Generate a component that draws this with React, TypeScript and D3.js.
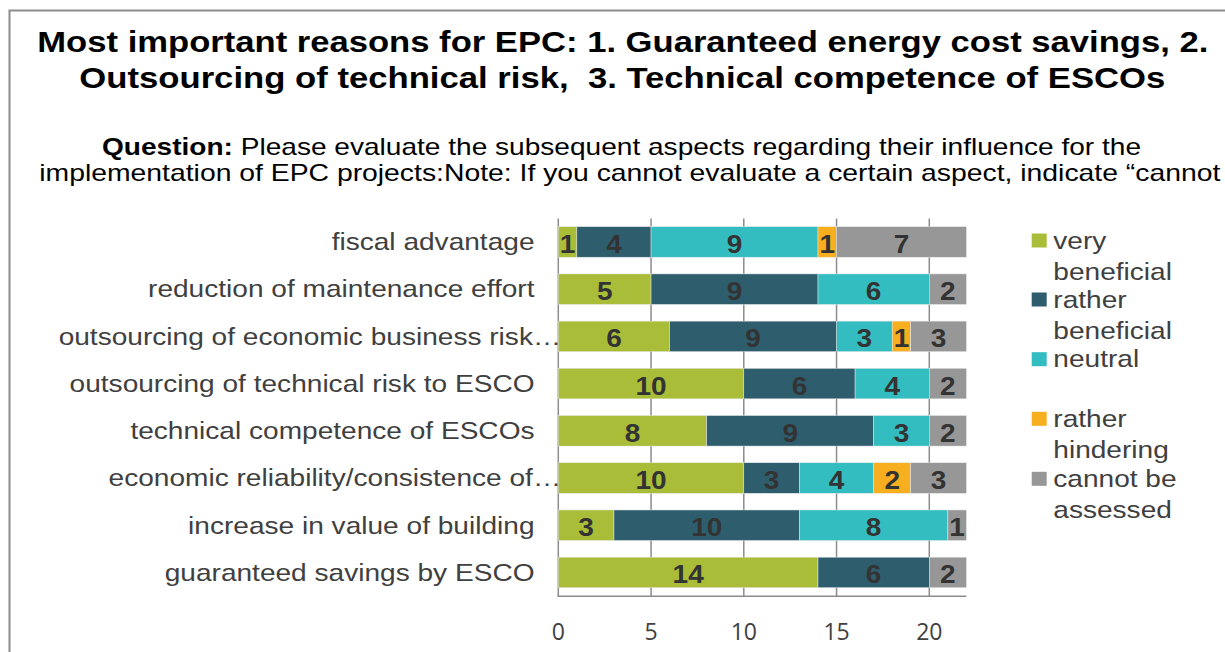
import React from "react";
import * as d3 from "d3";

const categories = [
  "fiscal advantage",
  "reduction of maintenance effort",
  "outsourcing of economic business risk…",
  "outsourcing of technical risk to ESCO",
  "technical competence of ESCOs",
  "economic reliability/consistence of…",
  "increase in value of building",
  "guaranteed savings by ESCO",
];
const truncated = [false, false, true, false, false, true, false, false];

const seriesNames = ["very beneficial", "rather beneficial", "neutral", "rather hindering", "cannot be assessed"];
const veryBeneficial = [1, 5, 6, 10, 8, 10, 3, 14];
const ratherBeneficial = [4, 9, 9, 6, 9, 3, 10, 6];
const neutral = [9, 6, 3, 4, 3, 4, 8, 0];
const ratherHindering = [1, 0, 1, 0, 0, 2, 0, 0];
const cannotAssess = [7, 2, 3, 2, 2, 3, 1, 2];
const seriesValues = [veryBeneficial, ratherBeneficial, neutral, ratherHindering, cannotAssess];
const colors = ["#A9BD38", "#2E5E6D", "#33BDC0", "#F7AE1F", "#979797"];
const ticks = [0, 5, 10, 15, 20];
const legendLines = [["very", "beneficial"], ["rather", "beneficial"], ["neutral", ""], ["rather", "hindering"], ["cannot be", "assessed"]];

const FONT = "'Liberation Sans', Arial, sans-serif";
const SX = 1.17;

function SText(props: any) {
  const { x, y, sx = SX, children, ...rest } = props;
  return (
    <text transform={`translate(${x},${y}) scale(${sx},1)`} {...rest}>
      {children}
    </text>
  );
}

export default function App() {
  const x = d3.scaleLinear().domain([0, 22]).range([558.3, 966.4]);
  const y = d3.scaleBand().domain(categories).range([218.4, 596]).paddingInner(0.354).paddingOuter(0.176);
  const stackData = categories.map((c, i) => {
    const o: any = { cat: c };
    seriesNames.forEach((s, j) => (o[s] = seriesValues[j][i]));
    return o;
  });
  const stacked = d3.stack().keys(seriesNames)(stackData);

  return (
    <svg width={1225} height={652} style={{ position: "absolute", left: 0, top: 0 }} fontFamily={FONT}>
      <rect x={0} y={0} width={1225} height={652} fill="#fff" />
      <rect x={9.5} y={10.5} width={1230} height={660} fill="none" stroke="#8c8c8c" strokeWidth={2} />
      <text x={37.3} y={51.7} fontWeight="bold" fontSize={30} fill="#000" textLength={1171} lengthAdjust="spacingAndGlyphs">
        Most important reasons for EPC: 1. Guaranteed energy cost savings, 2.
      </text>
      <text x={79.3} y={88} fontWeight="bold" fontSize={30} fill="#000" textLength={1086} lengthAdjust="spacingAndGlyphs" style={{ whiteSpace: "pre" }}>
        {"Outsourcing of technical risk,  3. Technical competence of ESCOs"}
      </text>
      <text x={102} y={155} fontSize={24} fill="#000" textLength={1039} lengthAdjust="spacingAndGlyphs">
        <tspan fontWeight="bold">Question:</tspan> Please evaluate the subsequent aspects regarding their influence for the
      </text>
      <text x={39.3} y={180.5} fontSize={24} fill="#000" textLength={1181} lengthAdjust="spacingAndGlyphs">
        implementation of EPC projects:Note: If you cannot evaluate a certain aspect, indicate “cannot
      </text>

      {ticks.map((t) => (
        <line key={t} x1={x(t)} x2={x(t)} y1={218.4} y2={596} stroke="#8c8c8c" strokeWidth={1.5} />
      ))}
      <line x1={557.5} x2={966.4} y1={596.3} y2={596.3} stroke="#8c8c8c" strokeWidth={1.5} />

      {stacked.map((layer, j) =>
        layer.map((d, i) => {
          const v = d[1] - d[0];
          if (v <= 0) return null;
          const y0 = y(categories[i])!;
          return (
            <g key={j + "-" + i}>
              <rect x={x(d[0])} y={y0} width={x(d[1]) - x(d[0])} height={y.bandwidth()} fill={colors[j]} stroke="#e6e6e6" strokeWidth={0.5} />
              <SText x={(x(d[0]) + x(d[1])) / 2} y={y0 + y.bandwidth() / 2 + 11} sx={1.12} textAnchor="middle" fontWeight="bold" fontSize={25} fill="#333">
                {v}
              </SText>
            </g>
          );
        })
      )}

      {categories.map((c, i) => (
        <SText key={c} x={truncated[i] ? 561 : 534.5} y={y(c)! + y.bandwidth() / 2 + 8.3} textAnchor="end" fontSize={24} fill="#404040">
          {c}
        </SText>
      ))}

      {ticks.map((t) => (
        <text key={t} x={x(t)} y={639.5} textAnchor="middle" fontSize={23} fill="#404040" fontFamily="'Open Sans', sans-serif">
          {t}
        </text>
      ))}

      {seriesNames.map((s, j) => {
        const ys = [240.5, 299.5, 359.2, 418.8, 478.8][j];
        return (
          <g key={s}>
            <rect x={1031.7} y={ys - 7} width={15} height={14} fill={colors[j]} />
            <SText x={1053.3} y={ys + 8} fontSize={24} fill="#404040">{legendLines[j][0]}</SText>
            {legendLines[j][1] && <SText x={1053.3} y={ys + 39.5} fontSize={24} fill="#404040">{legendLines[j][1]}</SText>}
          </g>
        );
      })}
    </svg>
  );
}
